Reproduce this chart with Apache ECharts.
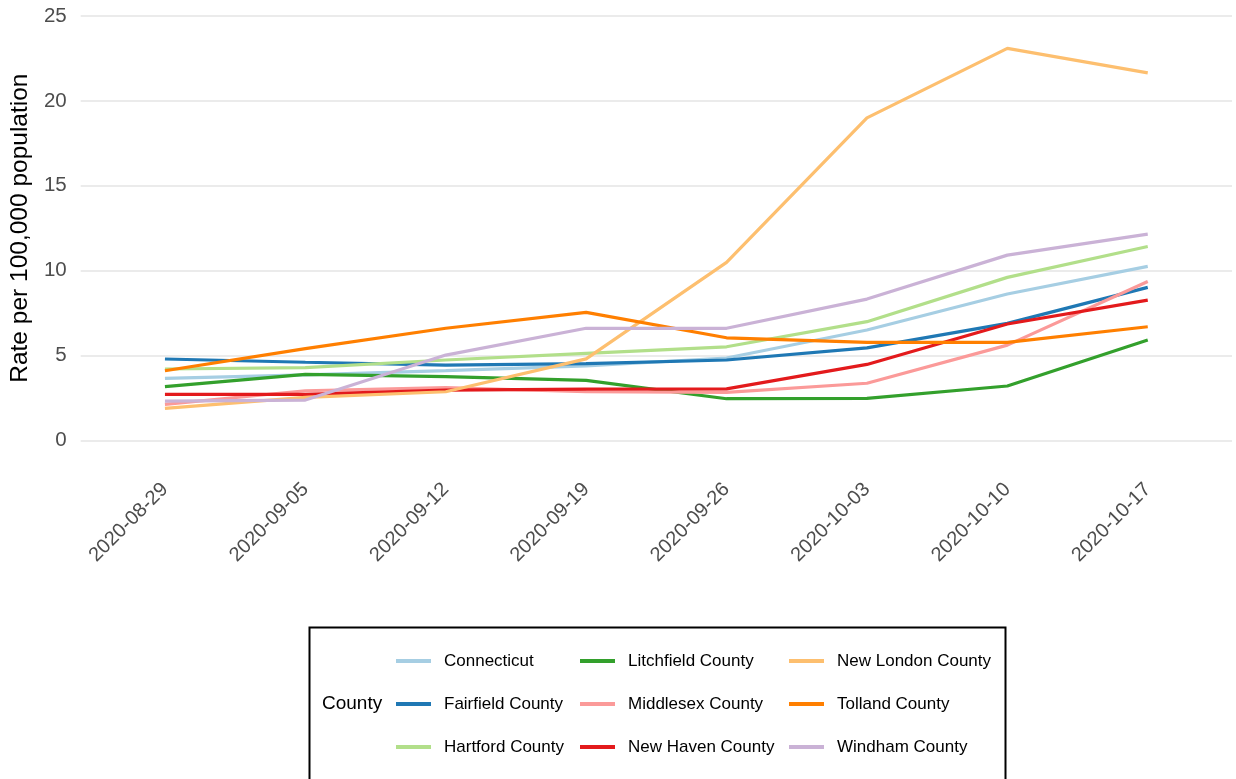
<!DOCTYPE html>
<html>
<head>
<meta charset="utf-8">
<script src="https://cdn.jsdelivr.net/npm/echarts@6/dist/echarts.min.js"></script>
<style>
html,body{margin:0;padding:0;background:#fff;}
#chart{width:1236px;height:779px;}
</style>
</head>
<body>
<div id="chart"></div>
<script>
var dates = ['2020-08-29','2020-09-05','2020-09-12','2020-09-19','2020-09-26','2020-10-03','2020-10-10','2020-10-17'];
var yTicks = [0, 5, 10, 15, 20, 25];
var seriesNames = ['Connecticut','Fairfield County','Hartford County','Litchfield County','Middlesex County','New Haven County','New London County','Tolland County','Windham County'];
var connecticut = [3.65, 3.85, 4.1, 4.38, 4.85, 6.5, 8.62, 10.25];
var fairfield   = [4.79, 4.6, 4.43, 4.52, 4.73, 5.45, 6.89, 9.01];
var hartford    = [4.2, 4.28, 4.73, 5.12, 5.51, 6.99, 9.6, 11.42];
var litchfield  = [3.16, 3.88, 3.75, 3.53, 2.45, 2.47, 3.2, 5.91];
var middlesex   = [2.12, 2.92, 3.1, 2.86, 2.82, 3.36, 5.61, 9.36];
var newHaven    = [2.71, 2.71, 2.96, 3.02, 3.03, 4.47, 6.85, 8.26];
var newLondon   = [1.88, 2.53, 2.86, 4.8, 10.48, 19.0, 23.09, 21.65];
var tolland     = [4.1, 5.4, 6.6, 7.54, 6.04, 5.77, 5.77, 6.69];
var windham     = [2.31, 2.37, 5.02, 6.6, 6.6, 8.32, 10.91, 12.15];
var allValues = [connecticut, fairfield, hartford, litchfield, middlesex, newHaven, newLondon, tolland, windham];
var colors = ['#A6CEE3','#1F78B4','#B2DF8A','#33A02C','#FB9A99','#E31A1C','#FDBF6F','#FF7F00','#CAB2D6'];

var FONT = 'Liberation Sans, Arial, sans-serif';
var chart = echarts.init(document.getElementById('chart'), null, {renderer: 'canvas'});

var series = seriesNames.map(function (name, i) {
  return {
    name: name,
    type: 'line',
    data: allValues[i].map(function (v, j) { return [j, v]; }),
    showSymbol: false,
    symbol: 'none',
    lineStyle: {color: colors[i], width: 3.2},
    itemStyle: {color: colors[i]},
    emphasis: {disabled: true},
    animation: false
  };
});

function legendBlock(names, left) {
  return {
    orient: 'vertical',
    left: left,
    top: 651,
    padding: 0,
    data: names,
    icon: 'rect',
    itemWidth: 35,
    itemHeight: 4,
    itemGap: 23,
    selectedMode: false,
    textStyle: {fontFamily: FONT, fontSize: 17, color: '#000', lineHeight: 20, padding: [0, 0, 0, 8]}
  };
}

var option = {
  backgroundColor: '#fff',
  animation: false,
  color: colors,
  grid: {left: 80, right: 4, top: 16, bottom: 779 - 440.3},
  xAxis: {
    type: 'value',
    min: -0.6,
    max: 7.6,
    axisLine: {show: false},
    axisTick: {show: false},
    splitLine: {show: false},
    axisLabel: {
      customValues: [0, 1, 2, 3, 4, 5, 6, 7],
      formatter: function (v) { return dates[Math.round(v)] || ''; },
      rotate: 45,
      fontFamily: FONT,
      fontSize: 20,
      color: '#4D4D4D',
      margin: 46
    }
  },
  yAxis: {
    type: 'value',
    min: 0,
    max: 25,
    interval: 5,
    name: 'Rate per 100,000 population',
    nameLocation: 'middle',
    nameRotate: 90,
    nameGap: 42,
    nameTextStyle: {fontFamily: FONT, fontSize: 24.5, color: '#000'},
    axisLine: {show: false},
    axisTick: {show: false},
    splitLine: {lineStyle: {color: '#EBEBEB', width: 2}},
    axisLabel: {fontFamily: FONT, fontSize: 20.5, color: '#4D4D4D', margin: 14,
      formatter: function (v) { return yTicks.indexOf(v) >= 0 ? String(v) : ''; }}
  },
  legend: [
    legendBlock(seriesNames.slice(0, 3), 396),
    legendBlock(seriesNames.slice(3, 6), 580),
    legendBlock(seriesNames.slice(6, 9), 789)
  ],
  graphic: [
    {type: 'rect', left: 307, top: 625, shape: {x: 0, y: 0, width: 696, height: 180},
     style: {fill: 'none', stroke: '#000', lineWidth: 2}, silent: true},
    {type: 'text', left: 322, top: 694, style: {text: 'County', fontFamily: FONT, fontSize: 19, fill: '#000'}, silent: true}
  ],
  series: series
};
chart.setOption(option);
</script>
</body>
</html>
